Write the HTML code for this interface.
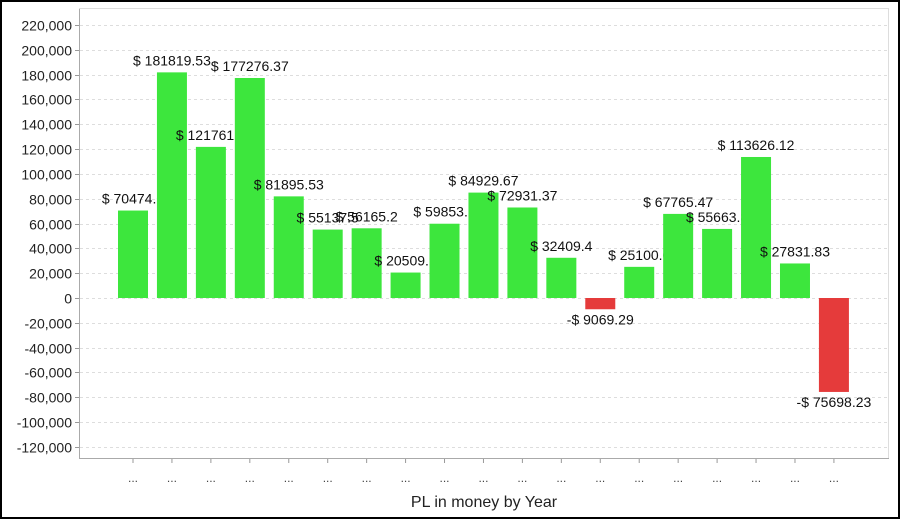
<!DOCTYPE html>
<html><head><meta charset="utf-8"><style>
body{margin:0;background:#fff}
svg{display:block;font-family:"Liberation Sans",Arial,sans-serif}
</style></head><body>
<svg id="chart" width="900" height="519">
<rect x="1" y="1" width="898" height="517" fill="#fff" stroke="#000" stroke-width="2"/>
<g id="grid"></g><g id="yaxis"></g><g id="bars"></g>
<line x1="79.5" y1="8" x2="79.5" y2="458.5" stroke="#aaa"/>
<line x1="79" y1="458.5" x2="889" y2="458.5" stroke="#aaa"/>
<line x1="79" y1="8.5" x2="889" y2="8.5" stroke="#ddd"/>
<line x1="888.5" y1="8" x2="888.5" y2="458" stroke="#ddd"/>
<text x="484" y="507" font-size="16" text-anchor="middle" fill="#222">PL in money by Year</text>
</svg>
<script>
const categories=["...","...","...","...","...","...","...","...","...","...","...","...","...","...","...","...","...","...","..."];
const values=[70474.0,181819.53,121761.2,177276.37,81895.53,55137.5,56165.2,20509.9,59853.1,84929.67,72931.37,32409.4,-9069.29,25100.6,67765.47,55663.8,113626.12,27831.83,-75698.23];
const labels=["$ 70474.0","$ 181819.53","$ 121761.2","$ 177276.37","$ 81895.53","$ 55137.5","$ 56165.2","$ 20509.9","$ 59853.1","$ 84929.67","$ 72931.37","$ 32409.4","-$ 9069.29","$ 25100.6","$ 67765.47","$ 55663.8","$ 113626.12","$ 27831.83","-$ 75698.23"];
const yTicks=[220000,200000,180000,160000,140000,120000,100000,80000,60000,40000,20000,0,-20000,-40000,-60000,-80000,-100000,-120000];
const NS="http://www.w3.org/2000/svg";
const y0=298, pxPer=24.82/20000;
function yScale(v){return y0-v*pxPer;}
function xScale(i){return 133+i*38.94;}
function mk(t,a,p){const e=document.createElementNS(NS,t);for(const k in a)e.setAttribute(k,a[k]);p.appendChild(e);return e;}
const grid=document.getElementById('grid'),ya=document.getElementById('yaxis'),bars=document.getElementById('bars');
yTicks.forEach(v=>{
  const y=Math.round(yScale(v))+0.5;
  const g=mk('line',{x1:80,x2:888,y1:y,y2:y,stroke:'#ddd','stroke-dasharray':'3,3'},grid);
  
  
  const tk=mk('line',{x1:75,x2:79,y1:y,y2:y,stroke:'#999'},ya);
  
  
  const t=mk('text',{x:72,y:y+5,'font-size':14,'text-anchor':'end',fill:'#222'},ya);
  t.textContent=v.toLocaleString('en-US');
  
  
});
values.forEach((v,i)=>{
  const cx=xScale(i),top=yScale(Math.max(v,0)),bot=yScale(Math.min(v,0));
  const r=mk('rect',{x:cx-15,y:top,width:30,height:Math.max(bot-top,0.5),fill:v>=0?'#3de63d':'#e53b3b'},bars);
  
  
  const l=mk('text',{x:cx,y:v>=0?top-7:bot+15,'font-size':14,'text-anchor':'middle',fill:'#111'},bars);
  l.textContent=labels[i];
  
  
  const tk=mk('line',{x1:cx,x2:cx,y1:459,y2:463,stroke:'#999'},bars);
  
  
  const c=mk('text',{x:cx,y:482,'font-size':12,'text-anchor':'middle',fill:'#444'},bars);
  c.textContent=categories[i];
  
  
});
</script>
</body></html>
